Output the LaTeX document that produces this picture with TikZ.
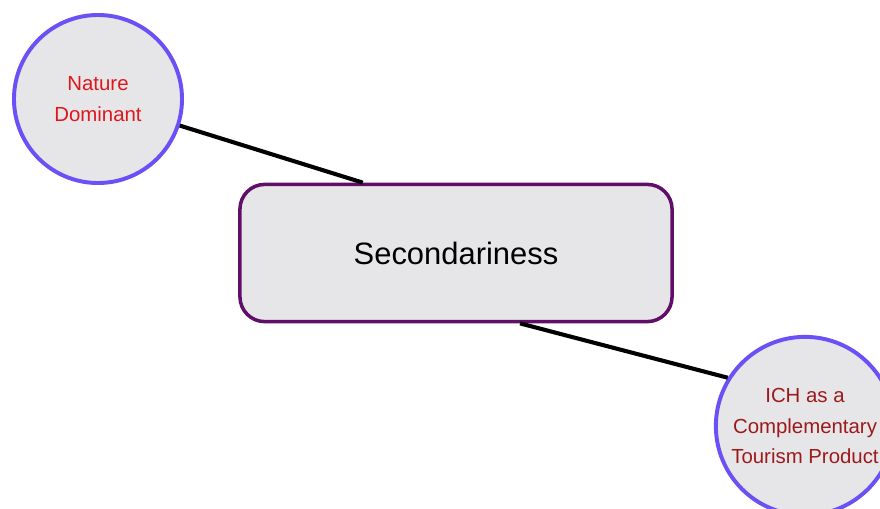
\documentclass[tikz,border=0pt]{standalone}
\usepackage{fontspec}
\setmainfont{Liberation Sans}

\definecolor{ringblue}{RGB}{106,80,245}
\definecolor{boxpurple}{RGB}{96,14,104}
\definecolor{nodefill}{RGB}{230,230,232}
\definecolor{natred}{RGB}{220,24,30}
\definecolor{ichred}{RGB}{156,26,28}

\tikzset{
	theme/.style={draw=ringblue,
		fill=nodefill,
		circle,
		line width=2.8pt,
		minimum size=4.2cm,
		align=center,
		font=\fontsize{14.5}{22}\selectfont},
	link/.style={line width=2.9pt, black}
}

\begin{document}
\begin{tikzpicture}[x=0.025cm, y=-0.025cm]
		
		\useasboundingbox (0,0) rectangle (880,508);
		\clip (0,0) rectangle (880,508);
		
		% Central box
		\node [draw=boxpurple,
		fill=nodefill,
		rounded corners=0.62cm,
		line width=2.5pt,
		minimum width=10.8cm,
		minimum height=3.43cm,
		font=\fontsize{22}{26}\selectfont] (second) at (456,253) {Secondariness};
		
		% Upper left theme
		\node [theme,
		text=natred] (nature) at (98,99) {Nature\\Dominant};
		
		% Lower right theme
		\node [theme,
		text=ichred] (ich) at (805,426) {ICH as a\\Complementary\\Tourism Product};
		
		% Links
		\draw [link] (nature.-18) -- ([xshift=-2.33cm]second.north);
		\draw [link] ([xshift=1.6cm]second.south) -- (ich.148);
		
	\end{tikzpicture}
\end{document}
